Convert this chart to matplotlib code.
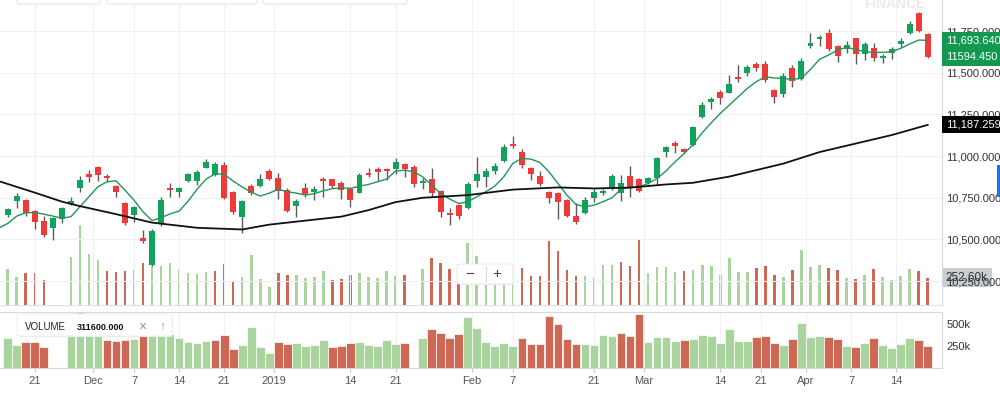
import matplotlib
matplotlib.use('Agg')
import matplotlib.pyplot as plt
from matplotlib.patches import FancyBboxPatch, Rectangle
import numpy as np

plt.rcParams['font.family'] = ['Liberation Sans', 'DejaVu Sans']

# daily candles, trading day index 0 .. 102
opens = [10644, 10730, 10736, 10670, 10613, 10568, 10620, 10710, 10808, 10892,
         10934, 10880, 10820, 10721, 10646, 10511, 10346, 10600, 10810, 10786,
         10850, 10850, 10931, 10886, 10948, 10782, 10634, 10820, 10822, 10912,
         10868, 10796, 10702, 10806, 10782, 10865, 10861, 10836, 10804, 10780,
         10896, 10924, 10922, 10920, 10952, 10934, 10836, 10861, 10792, 10656,
         10706, 10691, 10850, 10872, 10911, 10968, 11072, 11024, 10931, 10880,
         10786, 10781, 10738, 10638, 10656, 10746, 10780, 10816, 10776, 10882,
         10864, 10840, 10866, 11026, 11078, 11041, 11068, 11236, 11322, 11382,
         11380, 11473, 11501, 11555, 11550, 11396, 11371, 11531, 11461, 11660,
         11702, 11736, 11661, 11640, 11706, 11612, 11646, 11586, 11616, 11670,
         11736, 11860, 11732]
highs = [10690, 10776, 10740, 10676, 10640, 10632, 10696, 10752, 10880, 10916,
         10942, 10892, 10824, 10724, 10700, 10556, 10562, 10754, 10840, 10816,
         10900, 10916, 10982, 10962, 10962, 10788, 10736, 10830, 10892, 10920,
         10896, 10808, 10740, 10836, 10820, 10876, 10865, 10850, 10810, 10896,
         10926, 10932, 10930, 10990, 10956, 10946, 10870, 10930, 10796, 10686,
         10710, 10844, 10994, 10926, 10956, 11070, 11120, 11042, 10936, 10910,
         10792, 10786, 10742, 10719, 10752, 10806, 10802, 10890, 10886, 10940,
         10868, 10876, 10996, 11062, 11093, 11050, 11178, 11322, 11356, 11396,
         11486, 11546, 11546, 11567, 11570, 11400, 11496, 11546, 11586, 11740,
         11726, 11760, 11666, 11690, 11710, 11682, 11676, 11610, 11652, 11710,
         11810, 11862, 11736]
lows = [10632, 10690, 10640, 10562, 10512, 10496, 10596, 10706, 10786, 10842,
        10850, 10846, 10752, 10586, 10606, 10480, 10340, 10580, 10756, 10756,
        10846, 10826, 10930, 10882, 10740, 10652, 10536, 10766, 10816, 10856,
        10740, 10664, 10632, 10756, 10736, 10756, 10811, 10742, 10696, 10776,
        10876, 10850, 10856, 10890, 10872, 10816, 10802, 10756, 10636, 10588,
        10620, 10682, 10816, 10812, 10890, 10964, 11051, 10926, 10856, 10822,
        10720, 10622, 10632, 10590, 10650, 10726, 10766, 10796, 10733, 10756,
        10786, 10830, 10826, 10996, 11021, 11016, 11060, 11230, 11280, 11312,
        11376, 11442, 11482, 11512, 11446, 11316, 11356, 11416, 11456, 11650,
        11662, 11632, 11566, 11616, 11550, 11576, 11570, 11556, 11582, 11656,
        11732, 11746, 11590]
closes = [10680, 10762, 10658, 10602, 10526, 10628, 10686, 10730, 10856, 10876,
          10886, 10866, 10784, 10600, 10694, 10492, 10550, 10736, 10794, 10806,
          10890, 10907, 10966, 10955, 10751, 10662, 10730, 10776, 10860, 10862,
          10793, 10671, 10730, 10771, 10802, 10853, 10822, 10796, 10736, 10884,
          10888, 10906, 10910, 10962, 10925, 10832, 10850, 10780, 10664, 10644,
          10640, 10831, 10892, 10912, 10938, 11056, 11060, 10944, 10890, 10832,
          10746, 10726, 10638, 10606, 10734, 10786, 10792, 10881, 10836, 10812,
          10793, 10866, 10990, 11056, 11060, 11027, 11174, 11306, 11340, 11348,
          11431, 11462, 11532, 11526, 11456, 11356, 11480, 11450, 11570, 11676,
          11716, 11643, 11600, 11666, 11610, 11672, 11586, 11602, 11642, 11692,
          11790, 11752, 11594.45]

# volume in thousands, None = no data
volumes_k = [336, 262, 293, 293, 236, None, None, 441, 744, 472,
             420, 316, 305, 316, 324, 389, 360, 364, 385, 335,
             296, 285, 310, 315, 378, 218, 258, 462, 238, 170,
             298, 276, 282, 251, 259, 313, 236, 244, 282, 293,
             262, 251, 313, 270, 282, None, 336, 439, 393, 336,
             382, 577, 458, 297, 251, 282, 244, 339, 270, 270,
             596, 497, 328, 270, 270, 262, 374, 366, 397, 359,
             615, 293, 354, 354, 301, 313, 328, 374, 362, 282,
             439, 301, 308, 347, 362, 282, 262, 328, 508, 354,
             366, 347, 328, 251, 240, 282, 336, 259, 228, 270,
             336, 316, 252.6]

# short moving average, starts one day before the first candle (day -1)
sma_short = [10568, 10596, 10640, 10660, 10662, 10652, 10640, 10628, 10636, 10696, 10756,
             10816, 10846, 10852, 10796, 10736, 10666, 10613, 10631, 10653, 10670,
             10730, 10802, 10862, 10894, 10891, 10850, 10814, 10784, 10760, 10778,
             10801, 10786, 10778, 10766, 10775, 10792, 10805, 10810, 10806, 10820,
             10830, 10846, 10862, 10910, 10916, 10906, 10876, 10826, 10776, 10742,
             10716, 10726, 10756, 10786, 10820, 10876, 10956, 10986, 10982, 10962,
             10906, 10836, 10766, 10710, 10696, 10706, 10726, 10750, 10802, 10812,
             10816, 10836, 10866, 10912, 10966, 11016, 11070, 11140, 11200, 11256,
             11306, 11356, 11406, 11446, 11476, 11468, 11466, 11460, 11466, 11520,
             11580, 11606, 11636, 11652, 11640, 11626, 11622, 11622, 11626, 11646,
             11672, 11696, 11693.64]

# long moving average read at these days
long_days = [-1, 3, 6, 8, 12, 16, 21, 26, 29, 34, 37, 40, 43, 46, 51, 56,
             61, 65, 69, 73, 76, 80, 83, 86, 90, 94, 98, 102]
sma_long = [10850, 10781, 10727, 10700, 10652, 10601, 10570, 10560, 10589, 10619,
            10637, 10676, 10724, 10750, 10766, 10799, 10812, 10806, 10811, 10830,
            10840, 10877, 10916, 10955, 11024, 11075, 11126, 11187.259]

tick_days = [3, 9.5, 14, 19, 24, 29.5, 38, 43, 51.5, 56, 65, 70.5, 79, 83.5, 88.5, 93.5, 98.5]
tick_labels = ['21', 'Dec', '7', '14', '21', '2019', '14', '21', 'Feb', '7',
               '21', 'Mar', '14', '21', 'Apr', '7', '14']
price_ticks = [10250, 10500, 10750, 11000, 11250, 11500, 11750]
vol_ticks = [250000, 500000]
vol_tick_labels = ['250k', '500k']

GREEN = '#10a35c'
RED = '#f03a3a'
VGREEN = '#a9d49d'
VRED = '#cf6755'
GRID = '#eff0f3'
EDGE = '#d6dae0'

W, H = 1000, 394
fig = plt.figure(figsize=(10, 3.94), dpi=100)
fig.patch.set_facecolor('white')

days = np.arange(len(closes))
o = np.array(opens, float)
c = np.array(closes, float)
up = c >= o
vol = np.array([np.nan if v is None else v * 1000 for v in volumes_k])
vol_up = np.r_[True, c[1:] >= c[:-1]]
has_vol = ~np.isnan(vol)
vcols = np.where(vol_up, VGREEN, VRED)
xlim = (-0.854, 103.58)

# main price panel with volume overlay behind it
ax = fig.add_axes([0, 1 - 305 / H, 942 / W, 305 / H])
ov = ax.twinx()
ov.set_zorder(0)
ax.set_zorder(1)
ax.patch.set_visible(False)

ov.bar(days[has_vol], vol[has_vol], width=0.28, color=vcols[has_vol], zorder=1)
ov.set_ylim(0, 305 * 9260)
ov.set_yticks([])
for s in ov.spines.values():
    s.set_visible(False)

ax.vlines(days, lows, highs, color='#5b5b5b', lw=1, zorder=3)
body_lo = np.minimum(o, c)
body_h = np.maximum(np.abs(c - o), 4)
ax.bar(days, body_h, bottom=body_lo, width=0.66,
       color=np.where(up, GREEN, RED), zorder=4)
ax.plot(np.arange(-1, len(sma_short) - 1), sma_short, color='#23945a', lw=1.0, zorder=5)
ax.plot(long_days, sma_long, color='#111111', lw=1.3, zorder=5)

ax.set_xlim(*xlim)
ov.set_xlim(*xlim)
ax.set_ylim(10107, 11936)
ax.set_xticks(tick_days)
ax.set_yticks(price_ticks)
ax.set_yticklabels(['{:,.3f}'.format(v) for v in price_ticks])
ax.yaxis.tick_right()
ax.tick_params(axis='y', length=0, pad=3, labelsize=8, labelcolor='#333333')
ax.tick_params(axis='x', length=0, labelbottom=False)
ax.grid(True, color=GRID, lw=0.8)
ax.set_axisbelow(True)
for side in ['top', 'left']:
    ax.spines[side].set_visible(False)
ax.spines['right'].set_color(EDGE)
ax.spines['bottom'].set_color('#dde1e6')

# value flags on the price axis
def flag(axis, y, txt, fc, tc='white', size=8):
    axis.text(1.004, y, txt, transform=axis.get_yaxis_transform(), va='center', ha='left',
              fontsize=size, color=tc, clip_on=False, zorder=20,
              bbox=dict(boxstyle='square,pad=0.32', fc=fc, ec='none'))

flag(ax, sma_short[-1], '{:,.3f}'.format(sma_short[-1]), '#12994f')
flag(ax, closes[-1], '{:.3f}'.format(closes[-1]), '#12994f')
flag(ax, sma_long[-1], '{:,.3f}'.format(sma_long[-1]), '#000000')
flag(ov, vol[-1], '{:.2f}k'.format(vol[-1] / 1000), '#c9ccd3', tc='#333333', size=8.5)

# volume panel
vax = fig.add_axes([0, 1 - 367.5 / H, 942 / W, 55.8 / H])
vax.bar(days[has_vol], vol[has_vol], width=0.96, color=vcols[has_vol],
        edgecolor='white', lw=0.5)
vax.set_xlim(*xlim)
vax.set_ylim(0, 642000)
vax.set_yticks(vol_ticks)
vax.set_yticklabels(vol_tick_labels)
vax.yaxis.tick_right()
vax.tick_params(axis='y', length=0, pad=3, labelsize=8, labelcolor='#333333')
vax.set_xticks(tick_days)
vax.set_xticklabels(tick_labels)
vax.tick_params(axis='x', length=3, color='#c8ccd2', pad=3, labelsize=8, labelcolor='#555555')
vax.grid(True, axis='x', color=GRID, lw=0.8)
vax.set_axisbelow(True)
vax.spines['left'].set_visible(False)
for side in ['top', 'right', 'bottom']:
    vax.spines[side].set_color(EDGE)

# volume tooltip
fig.patches.append(FancyBboxPatch((18 / W, 1 - 337 / H), 155 / W, 22 / H,
                                  boxstyle='round,pad=0,rounding_size=0.004',
                                  transform=fig.transFigure, fc='#e9ebee', ec='none', zorder=30))
fig.patches.append(FancyBboxPatch((17 / W, 1 - 336 / H), 155 / W, 22 / H,
                                  boxstyle='round,pad=0,rounding_size=0.004',
                                  transform=fig.transFigure, fc='white', ec='#eceef1',
                                  lw=0.6, zorder=31))
ty = 1 - 327 / H
fig.text(25 / W, ty, 'VOLUME', fontsize=7, color='#222222', va='center', zorder=32)
fig.text(77 / W, ty, '311600.000', fontsize=6.5, weight='bold', color='#111111',
         va='center', zorder=32)
fig.text(142 / W, ty, '\u00d7', fontsize=10, color='#9a9a9a', va='center', ha='center', zorder=32)
fig.text(162 / W, ty, '\u2191', fontsize=8.5, color='#9a9a9a', va='center', ha='center', zorder=32)

# zoom control
fig.patches.append(FancyBboxPatch((458 / W, 1 - 285 / H), 56 / W, 21 / H,
                                  boxstyle='round,pad=0,rounding_size=0.004',
                                  transform=fig.transFigure, fc='#eceef1', ec='none', zorder=30))
fig.patches.append(FancyBboxPatch((457 / W, 1 - 284 / H), 56 / W, 20 / H,
                                  boxstyle='round,pad=0,rounding_size=0.004',
                                  transform=fig.transFigure, fc='white', ec='#e6e8eb',
                                  lw=0.6, zorder=31))
zy = 1 - 274 / H
fig.text(470 / W, zy, '\u2212', fontsize=11, color='#444444', va='center', ha='center', zorder=32)
fig.text(497 / W, zy, '+', fontsize=11, color='#444444', va='center', ha='center', zorder=32)
fig.add_artist(plt.Line2D([486 / W, 486 / W], [1 - 281 / H, 1 - 267 / H],
                          color='#d5d8dc', lw=0.8, zorder=32))

# top tabs, watermark and scroll handle
for x0, x1 in [(17, 100), (107, 257), (263, 407)]:
    fig.patches.append(FancyBboxPatch((x0 / W, 1 - 4 / H), (x1 - x0) / W, 20 / H,
                                      boxstyle='round,pad=0,rounding_size=0.004',
                                      transform=fig.transFigure, fc='white',
                                      ec='#e4e6e9', lw=0.8, zorder=30))
fig.text(895 / W, 1 - 8 / H, 'FINANCE', fontsize=10, weight='bold', color='#e9eaec',
         ha='center', va='baseline', zorder=0)
fig.patches.append(Rectangle((997 / W, 1 - 197 / H), 3 / W, 32 / H,
                             transform=fig.transFigure, fc='#1a73e8', ec='none', zorder=30))

fig.savefig('out.png', dpi=100)
